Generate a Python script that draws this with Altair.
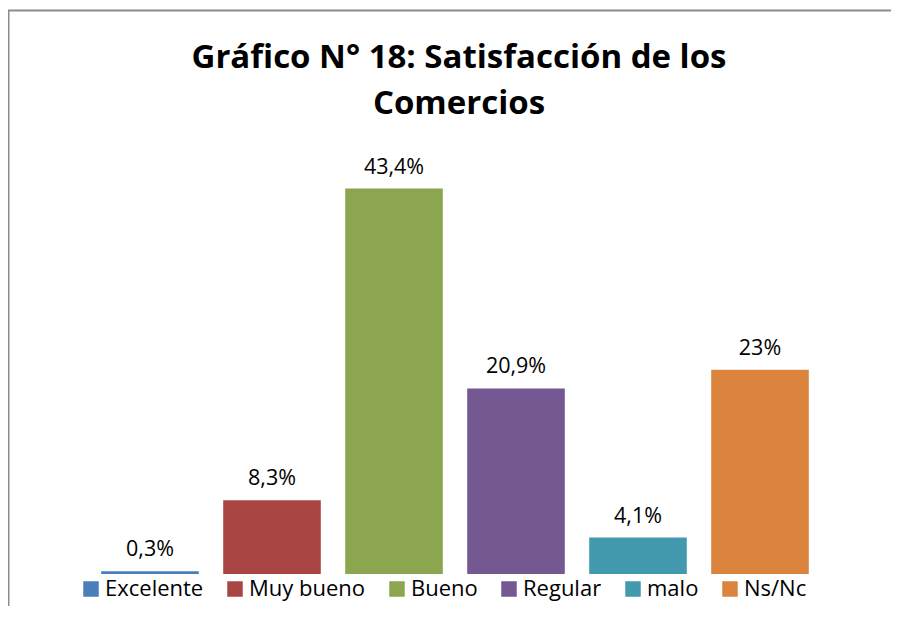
import altair as alt
import pandas as pd

categories = ["Excelente", "Muy bueno", "Bueno", "Regular", "malo", "Ns/Nc"]
values = [0.3, 8.3, 43.4, 20.9, 4.1, 23.0]
labels = ["0,3%", "8,3%", "43,4%", "20,9%", "4,1%", "23%"]
colors = ["#4a7ebb", "#a94644", "#8ba64f", "#735891", "#4399ae", "#db843d"]
title_lines = ["Gráfico N° 18: Satisfacción de los", "Comercios"]

W, H = 883, 598
FONT = "Open Sans"

df = pd.DataFrame({"cat": categories, "val": values, "lab": labels})

xs = alt.X("cat:N", sort=categories, axis=None,
           scale=alt.Scale(range=[81, 813], paddingInner=0.2, paddingOuter=0.1))
ys = alt.Y("val:Q", axis=None, scale=alt.Scale(domain=[0, 50], range=[566, 122]))

base = alt.Chart(df)

bars = base.mark_bar().encode(
    x=xs, y=ys,
    color=alt.Color("cat:N", sort=categories,
                    scale=alt.Scale(domain=categories, range=colors),
                    legend=alt.Legend(title=None, orient="none", direction="horizontal",
                                      legendX=72, legendY=570, padding=0,
                                      symbolType="square", symbolSize=240,
                                      symbolStrokeWidth=0, labelFont=FONT,
                                      labelFontSize=22, labelColor="#000000",
                                      labelOffset=3, columnPadding=20,
                                      labelLimit=300)),
)

texts = base.mark_text(font=FONT, fontSize=21.5, color="#000000", dy=-15,
                       baseline="alphabetic").encode(x=xs, y=ys, text="lab:N")

one = alt.Chart(pd.DataFrame({"a": [0]}))
frame_left = one.mark_rule(color="#8c8c8c", strokeWidth=2).encode(
    x=alt.value(0.5), y=alt.value(2.5), y2=alt.value(H))
frame_top = one.mark_rule(color="#8c8c8c", strokeWidth=2).encode(
    x=alt.value(0), x2=alt.value(W), y=alt.value(2.5))

t1 = one.mark_text(font=FONT, fontSize=33, fontWeight="bold", color="#000000",
                   align="center", baseline="alphabetic").encode(
    x=alt.value(451), y=alt.value(60), text=alt.value(title_lines[0]))
t2 = one.mark_text(font=FONT, fontSize=33, fontWeight="bold", color="#000000",
                   align="center", baseline="alphabetic").encode(
    x=alt.value(451), y=alt.value(106), text=alt.value(title_lines[1]))

chart = alt.layer(bars, texts, frame_left, frame_top, t1, t2).properties(
    width=W, height=H, autosize=alt.AutoSizeParams(type="none"), padding=0,
    background="white"
).configure_view(stroke=None)

chart.save("out.html", embed_options={"renderer": "svg", "actions": False})
